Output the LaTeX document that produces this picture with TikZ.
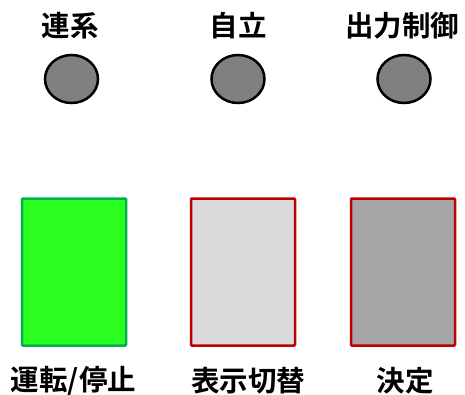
\documentclass[tikz,border=0pt]{standalone}
\usepackage{fontspec}
\usetikzlibrary{shapes.geometric}
\newfontfamily\cjk{Noto Sans CJK JP}[BoldFont=* Bold]
\definecolor{lampgray}{HTML}{808080}
\definecolor{keygreen}{HTML}{2AFF1F}
\definecolor{keygreenline}{HTML}{00B050}
\definecolor{keyred}{HTML}{C00000}
\definecolor{keylight}{HTML}{D9D9D9}
\definecolor{keydark}{HTML}{A6A6A6}
\begin{document}
\begin{tikzpicture}[x=1pt,y=-1pt,
        lamp/.style={draw=black,line width=2.5pt,fill=lampgray,ellipse,minimum width=53pt,minimum height=48pt,inner sep=0pt},
        key/.style={line width=2.5pt,minimum width=104pt,minimum height=147pt,inner sep=0pt,rounded corners=1pt},
        txt/.style={font=\cjk\bfseries\fontsize{28.5pt}{28.5pt}\selectfont,inner sep=0pt}]
                \useasboundingbox (0,0) rectangle (465,394);
                \node[txt] (l1) at (70,26) {連系};
                \node[txt] (l2) at (238,26) {自立};
                \node[txt] (l3) at (402,26) {出力制御};
                \node[lamp] (c1) at (71.5,79) {};
                \node[lamp] (c2) at (238,79) {};
                \node[lamp] (c3) at (404,79) {};
                \node[key,draw=keygreenline,fill=keygreen] (k1) at (74,272) {};
                \node[key,draw=keyred,fill=keylight] (k2) at (243,272) {};
                \node[key,draw=keyred,fill=keydark] (k3) at (403,272) {};
                \node[txt] (b1) at (73.5,381) {運転/停止};
                \node[txt] (b2) at (248,381) {表示切替};
                \node[txt] (b3) at (405,381) {決定};
            \end{tikzpicture}
\end{document}
